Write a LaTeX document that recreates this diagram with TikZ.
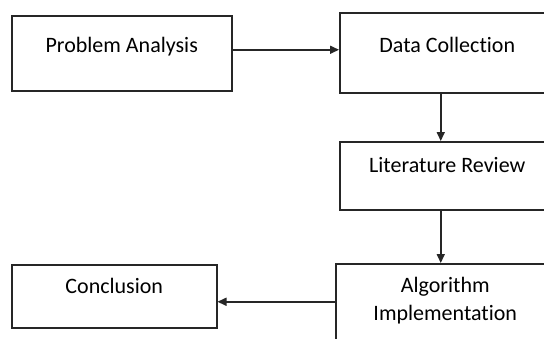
\documentclass[tikz,border=0pt]{standalone}
\usepackage{fontspec}
\setmainfont{Carlito}[Ligatures=NoCommon]
\usetikzlibrary{arrows.meta}
\begin{document}
\begin{tikzpicture}[x=1pt,y=-1pt,
  box/.style={draw=black!85,line width=1.5pt,anchor=north west,inner sep=0pt,
    align=center,font=\fontsize{22}{28}\selectfont},
  arr/.style={line width=1.6pt,draw=black!85,-{Triangle[length=9pt,width=8pt]}}]
  % Frame of the picture
  \fill[white] (0,0) rectangle (544,338);
  \useasboundingbox (0,0) rectangle (544,338);
  \clip (0,0) rectangle (544,338);

  % The steps
  \node[box,minimum width=220pt,text height=37pt,text depth=38pt] (prob) at (11,15) {Problem Analysis};
  \node[box,minimum width=215pt,text height=40pt,text depth=40pt] (data) at (339,12) {Data Collection};
  \node[box,minimum width=215pt,text height=31pt,text depth=37pt] (lit) at (339,141) {Literature Review};
  \node[box,minimum width=219pt,text height=57pt,text depth=40pt] (algo) at (335,263) {Algorithm\\Implementation};
  \node[box,minimum width=205pt,text height=29pt,text depth=34pt] (conc) at (11,264) {Conclusion};

  % Arrows between the steps
  \draw[arr] ([yshift=3.5pt]prob.east) -- ([yshift=3.5pt]prob.east -| data.west);
  \draw[arr] ([xshift=-6.5pt]data.south) -- ([xshift=-6.5pt]data.south |- lit.north);
  \draw[arr] ([xshift=-6.5pt]lit.south) -- ([xshift=-6.5pt]lit.south |- algo.north);
  \draw[arr] ([yshift=-5.5pt]algo.west |- conc.east) -- ([yshift=-5.5pt]conc.east);
\end{tikzpicture}
\end{document}
